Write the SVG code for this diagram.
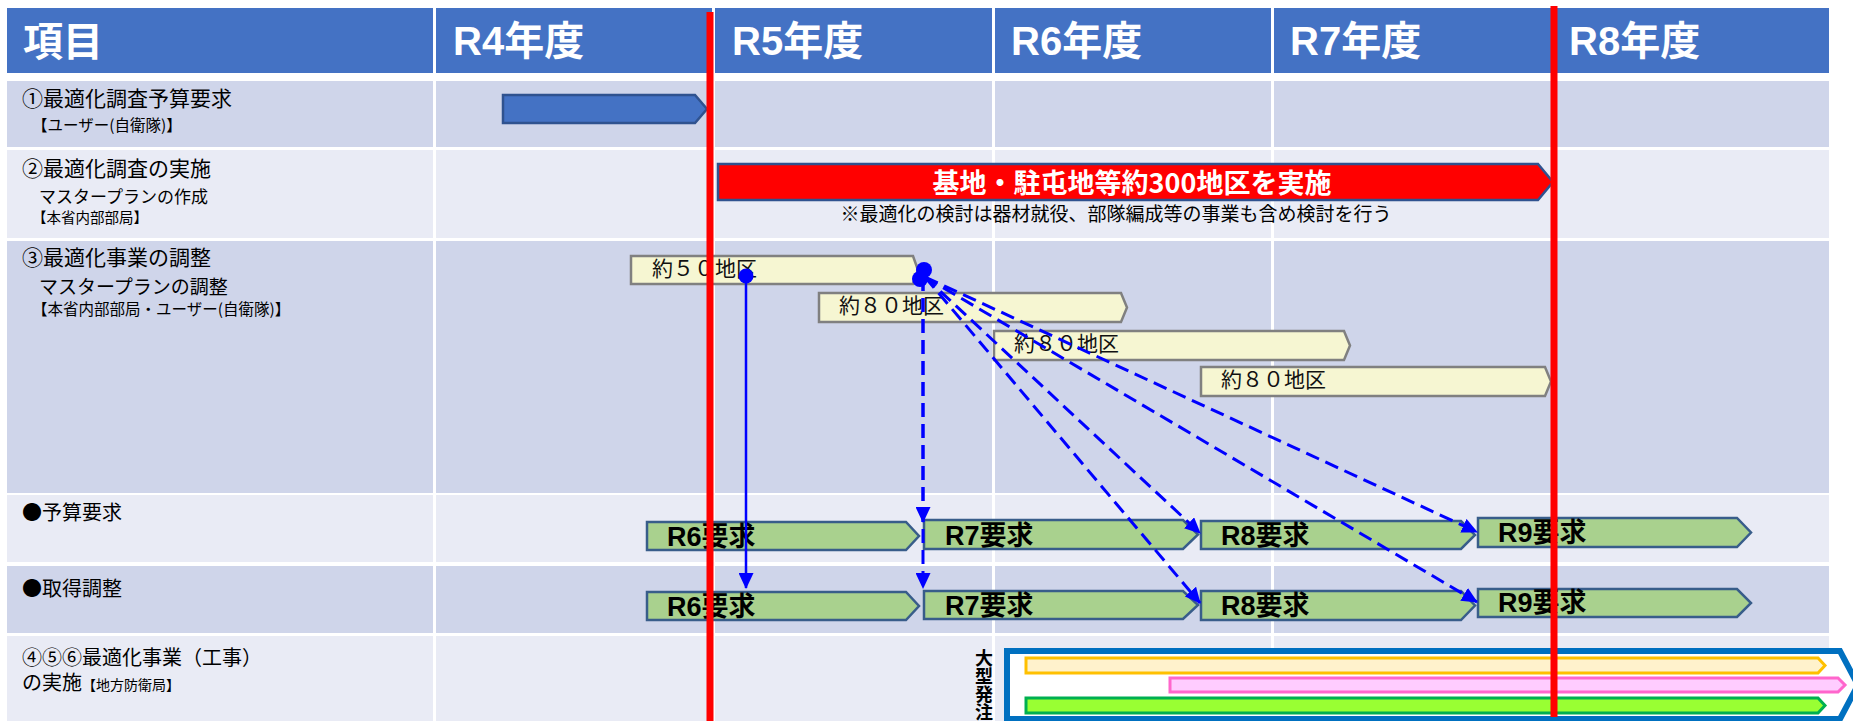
<svg xmlns="http://www.w3.org/2000/svg" width="1853" height="721" viewBox="0 0 1853 721">
<defs>
<style>
.hdr{fill:#4472C4}
.odd{fill:#CFD5EA}
.even{fill:#E9EBF5}
.div{stroke:#FFFFFF;stroke-width:3}
.ht{font-family:"Liberation Sans","Noto Sans CJK JP",sans-serif;font-weight:bold;font-size:40px;fill:#FFFFFF}
.lb{font-family:"Noto Sans CJK JP",sans-serif;fill:#000000}
.yb{fill:#F6F6D2;stroke:#808080;stroke-width:2.5}
.yt{font-family:"Noto Sans CJK JP",sans-serif;font-size:21px;fill:#111111}
.gb{fill:#A9D18E;stroke:#385D8A;stroke-width:2.5}
.gt{font-family:"Liberation Sans","Noto Sans CJK JP",sans-serif;font-weight:bold;font-size:27px;fill:#000000}
.sol{stroke:#0000FF;stroke-width:2.5;fill:none}
.dsh{stroke:#0000FF;stroke-width:3;fill:none;stroke-dasharray:14 7}
.red{stroke:#FF0000;stroke-width:7}
</style>
<marker id="ah" markerUnits="userSpaceOnUse" markerWidth="16" markerHeight="15" refX="15" refY="7.5" orient="auto">
<path d="M0,0 L16,7.5 L0,15 Z" fill="#0000FF"/>
</marker>
</defs>
<rect width="1853" height="721" fill="#FFFFFF"/>
<g id="table">
<rect class="hdr" x="7" y="8" width="1822" height="65"/>
<rect class="odd" x="7" y="81" width="1822" height="66"/>
<rect class="even" x="7" y="150" width="1822" height="88"/>
<rect class="odd" x="7" y="241" width="1822" height="252"/>
<rect class="even" x="7" y="495" width="1822" height="67"/>
<rect class="odd" x="7" y="566" width="1822" height="67"/>
<rect class="even" x="7" y="636" width="1822" height="85"/>
<line class="div" x1="434.5" y1="8" x2="434.5" y2="721"/>
<line class="div" x1="713.5" y1="8" x2="713.5" y2="721"/>
<line class="div" x1="993.5" y1="8" x2="993.5" y2="721"/>
<line class="div" x1="1272.5" y1="8" x2="1272.5" y2="721"/>
<line class="div" x1="1552.5" y1="8" x2="1552.5" y2="721"/>
<text class="ht" x="23" y="56" font-size="39">項目</text>
<text class="ht" x="453" y="55">R4年度</text>
<text class="ht" x="732" y="55">R5年度</text>
<text class="ht" x="1011" y="55">R6年度</text>
<text class="ht" x="1290" y="55">R7年度</text>
<text class="ht" x="1569" y="55">R8年度</text>
</g>
<g id="labels">
<text class="lb" x="22" y="106" font-size="21">①最適化調査予算要求</text>
<text class="lb" x="32" y="131" font-size="15.5">【ユーザー(自衛隊)】</text>
<text class="lb" x="22" y="176" font-size="21">②最適化調査の実施</text>
<text class="lb" x="39" y="203" font-size="17">マスタープランの作成</text>
<text class="lb" x="32" y="223" font-size="14.5">【本省内部部局】</text>
<text class="lb" x="22" y="265" font-size="21">③最適化事業の調整</text>
<text class="lb" x="39" y="294" font-size="19">マスタープランの調整</text>
<text class="lb" x="32" y="315" font-size="15.5">【本省内部部局・ユーザー(自衛隊)】</text>
<text class="lb" x="22" y="520" font-size="20">●予算要求</text>
<text class="lb" x="22" y="596" font-size="20">●取得調整</text>
<text class="lb" x="22" y="665" font-size="20">④⑤⑥最適化事業（工事）</text>
<text class="lb" x="22" y="690" font-size="20">の実施<tspan font-size="14">【地方防衛局】</tspan></text>
</g>
<g id="n-r1-request">
<polygon points="503,95 695,95 707,109 695,123 503,123" fill="#4472C4" stroke="#2F528F" stroke-width="2.5"/>
</g>
<g id="n-survey">
<polygon points="718,164 1538,164 1553,182 1538,200 718,200" fill="#FF0000" stroke="#2F528F" stroke-width="2.5"/>
<text x="1132" y="193" text-anchor="middle" font-family="Noto Sans CJK JP,sans-serif" font-weight="bold" font-size="27" fill="#FFFFFF">基地・駐屯地等約300地区を実施</text>
<text class="lb" x="1116" y="221" text-anchor="middle" font-size="19">※最適化の検討は器材就役、部隊編成等の事業も含め検討を行う</text>
</g>
<g id="n-y1"><polygon class="yb" points="631,256 913,256 918,270 913,284 631,284"/><text class="yt" x="652" y="276">約５０地区</text></g>
<g id="n-y2"><polygon class="yb" points="819,293 1121,293 1127,307.5 1121,322 819,322"/><text class="yt" x="839" y="313">約８０地区</text></g>
<g id="n-y3"><polygon class="yb" points="994,331 1344,331 1350,345.5 1344,360 994,360"/><text class="yt" x="1014" y="351">約８０地区</text></g>
<g id="n-y4"><polygon class="yb" points="1201,367 1545,367 1551,381.5 1545,396 1201,396"/><text class="yt" x="1221" y="387">約８０地区</text></g>
<g id="n-b-r6"><polygon class="gb" points="647,522 906,522 919,536 906,550 647,550"/><text class="gt" x="667" y="546">R6要求</text></g>
<g id="n-b-r7"><polygon class="gb" points="924,520 1183,520 1198,534.5 1183,549 924,549"/><text class="gt" x="945" y="545">R7要求</text></g>
<g id="n-b-r8"><polygon class="gb" points="1201,521 1461,521 1475,535 1461,549 1201,549"/><text class="gt" x="1221" y="545">R8要求</text></g>
<g id="n-b-r9"><polygon class="gb" points="1478,518 1737,518 1751,532.5 1737,547 1478,547"/><text class="gt" x="1498" y="542">R9要求</text></g>
<g id="n-a-r6"><polygon class="gb" points="647,592 906,592 919,606 906,620 647,620"/><text class="gt" x="667" y="616">R6要求</text></g>
<g id="n-a-r7"><polygon class="gb" points="924,591 1183,591 1198,605 1183,619 924,619"/><text class="gt" x="945" y="615">R7要求</text></g>
<g id="n-a-r8"><polygon class="gb" points="1201,591 1461,591 1475,605.5 1461,620 1201,620"/><text class="gt" x="1221" y="615">R8要求</text></g>
<g id="n-a-r9"><polygon class="gb" points="1478,589 1737,589 1751,603 1737,617 1478,617"/><text class="gt" x="1498" y="612">R9要求</text></g>
<g id="n-works">
<polygon points="1007,651 1840,651 1858,685 1840,719 1007,719" fill="#FFFFFF" stroke="#0070C0" stroke-width="6"/>
<polygon points="1026,658 1818,658 1825,665.5 1818,673 1026,673" fill="#FFF2CC" stroke="#FFC000" stroke-width="3"/>
<polygon points="1170,678 1838,678 1845,685 1838,692 1170,692" fill="#FFCCFF" stroke="#FF66CC" stroke-width="3"/>
<polygon points="1026,698 1818,698 1825,705.5 1818,713 1026,713" fill="#99FF33" stroke="#00B050" stroke-width="3"/>
<text x="984" y="649" writing-mode="vertical-rl" font-family="Noto Sans CJK JP,sans-serif" font-weight="bold" font-size="18" fill="#000000">大型発注</text>
</g>
<g id="connectors">
<line class="sol" x1="746" y1="276" x2="746" y2="588" marker-end="url(#ah)"/>
<circle cx="746" cy="276" r="7.5" fill="#0000FF"/>
<line class="dsh" x1="923" y1="277" x2="923" y2="522" marker-end="url(#ah)"/>
<line class="dsh" x1="923" y1="277" x2="923" y2="588" marker-end="url(#ah)"/>
<line class="dsh" x1="925" y1="277" x2="1200" y2="533" marker-end="url(#ah)"/>
<line class="dsh" x1="925" y1="277" x2="1200" y2="603" marker-end="url(#ah)"/>
<line class="dsh" x1="925" y1="277" x2="1477" y2="532" marker-end="url(#ah)"/>
<line class="dsh" x1="925" y1="277" x2="1477" y2="602" marker-end="url(#ah)"/>
<circle cx="924" cy="270" r="8" fill="#0000FF"/>
<circle cx="920" cy="279" r="8" fill="#0000FF"/>
</g>
<g id="milestones">
<line class="red" x1="710" y1="12" x2="710" y2="721"/>
<line class="red" x1="1554" y1="6" x2="1554" y2="717"/>
</g>
</svg>
